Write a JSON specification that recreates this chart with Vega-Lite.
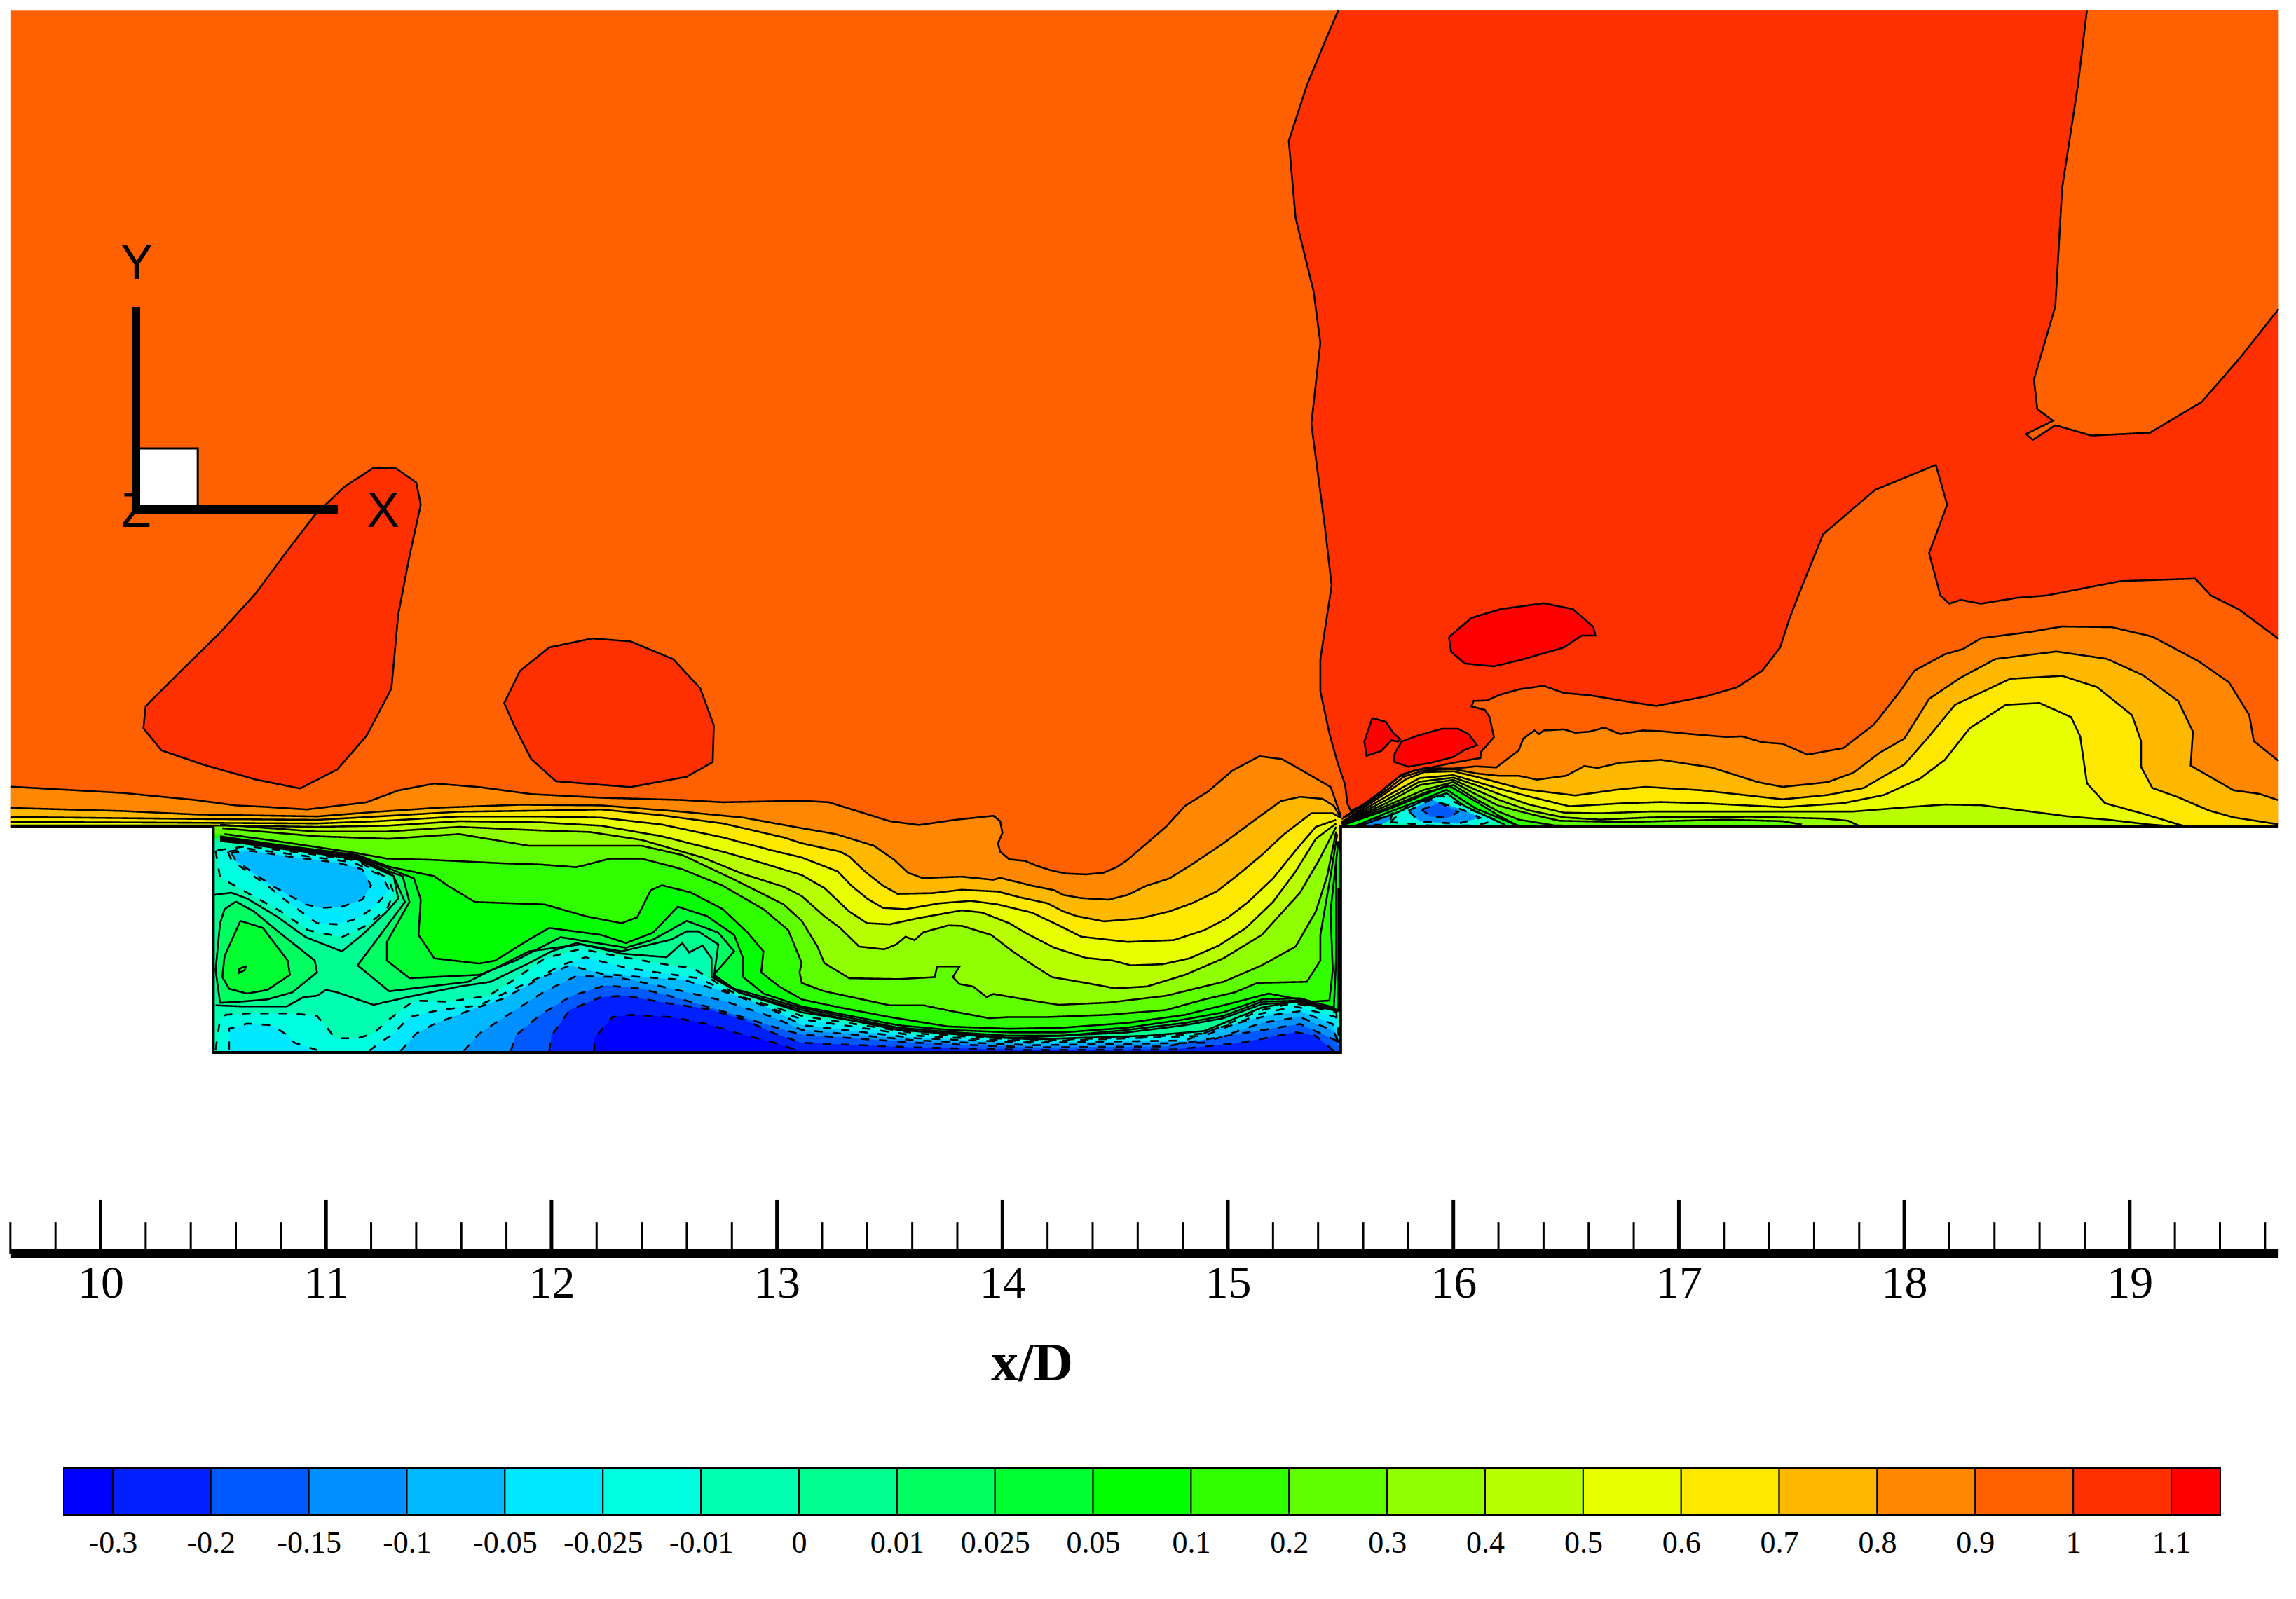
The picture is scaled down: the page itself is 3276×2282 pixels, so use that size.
{"$schema":"https://vega.github.io/schema/vega-lite/v6.json","width":3276,"height":2282,"padding":0,"autosize":{"type":"fit","contains":"padding"},"background":"white","config":{"view":{"stroke":null}},
"datasets":{"contours":[
{"s":1,"k":20,"e":1,"x":9.6,"y":3.62},{"s":1,"k":20,"e":1,"x":19.66,"y":3.62},{"s":1,"k":20,"e":1,"x":19.66,"y":0},{"s":1,"k":20,"e":1,"x":15.5,"y":0},{"s":1,"k":20,"e":1,"x":15.5,"y":-1},{"s":1,"k":20,"e":1,"x":10.5,"y":-1},{"s":1,"k":20,"e":1,"x":10.5,"y":0},{"s":1,"k":20,"e":1,"x":9.6,"y":0},
{"s":2,"k":21,"x":11.307,"y":1.591},{"s":2,"k":21,"x":11.21,"y":1.591},{"s":2,"k":21,"x":11.08,"y":1.506},{"s":2,"k":21,"x":10.95,"y":1.382},{"s":2,"k":21,"x":10.82,"y":1.213},{"s":2,"k":21,"x":10.69,"y":1.037},{"s":2,"k":21,"x":10.53,"y":0.861},{"s":2,"k":21,"x":10.37,"y":0.704},{"s":2,"k":21,"x":10.2,"y":0.535},{"s":2,"k":21,"x":10.19,"y":0.437},{"s":2,"k":21,"x":10.27,"y":0.339},{"s":2,"k":21,"x":10.46,"y":0.274},{"s":2,"k":21,"x":10.69,"y":0.209},{"s":2,"k":21,"x":10.885,"y":0.17},{"s":2,"k":21,"x":11.05,"y":0.254},{"s":2,"k":21,"x":11.18,"y":0.404},{"s":2,"k":21,"x":11.29,"y":0.613},{"s":2,"k":21,"x":11.32,"y":0.939},{"s":2,"k":21,"x":11.37,"y":1.199},{"s":2,"k":21,"x":11.42,"y":1.428},{"s":2,"k":21,"x":11.4,"y":1.526},{"s":2,"k":21,"x":11.307,"y":1.591},
{"s":3,"k":21,"x":12.18,"y":0.835},{"s":3,"k":21,"x":11.99,"y":0.795},{"s":3,"k":21,"x":11.86,"y":0.691},{"s":3,"k":21,"x":11.79,"y":0.548},{"s":3,"k":21,"x":11.84,"y":0.437},{"s":3,"k":21,"x":11.91,"y":0.3},{"s":3,"k":21,"x":12.02,"y":0.202},{"s":3,"k":21,"x":12.35,"y":0.176},{"s":3,"k":21,"x":12.6,"y":0.222},{"s":3,"k":21,"x":12.715,"y":0.287},{"s":3,"k":21,"x":12.72,"y":0.45},{"s":3,"k":21,"x":12.66,"y":0.613},{"s":3,"k":21,"x":12.54,"y":0.743},{"s":3,"k":21,"x":12.35,"y":0.822},{"s":3,"k":21,"x":12.18,"y":0.835},
{"s":4,"k":21,"x":15.49,"y":3.62},{"s":4,"k":21,"x":15.43,"y":3.48},{"s":4,"k":21,"x":15.35,"y":3.286},{"s":4,"k":21,"x":15.27,"y":3.04},{"s":4,"k":21,"x":15.3,"y":2.7},{"s":4,"k":21,"x":15.38,"y":2.373},{"s":4,"k":21,"x":15.41,"y":2.145},{"s":4,"k":21,"x":15.37,"y":1.786},{"s":4,"k":21,"x":15.43,"y":1.33},{"s":4,"k":21,"x":15.46,"y":1.069},{"s":4,"k":21,"x":15.41,"y":0.743},{"s":4,"k":21,"x":15.41,"y":0.6},{"s":4,"k":21,"x":15.43,"y":0.508},{"s":4,"k":21,"x":15.45,"y":0.414},{"s":4,"k":21,"x":15.485,"y":0.289},{"s":4,"k":21,"x":15.52,"y":0.185},{"s":4,"k":21,"x":15.53,"y":0.102},{"s":4,"k":21,"x":15.545,"y":0.071},{"s":4,"k":21,"x":15.63,"y":0.112},{"s":4,"k":21,"x":15.7,"y":0.175},{"s":4,"k":21,"x":15.76,"y":0.222},{"s":4,"k":21,"x":15.82,"y":0.248},{"s":4,"k":21,"x":15.9,"y":0.263},{"s":4,"k":21,"x":16.0,"y":0.284},{"s":4,"k":21,"x":16.12,"y":0.305},{"s":4,"k":21,"x":16.122,"y":0.331},{"s":4,"k":21,"x":16.18,"y":0.398},{"s":4,"k":21,"x":16.16,"y":0.487},{"s":4,"k":21,"x":16.14,"y":0.518},{"s":4,"k":21,"x":16.08,"y":0.534},{"s":4,"k":21,"x":16.09,"y":0.558},{"s":4,"k":21,"x":16.15,"y":0.56},{"s":4,"k":21,"x":16.2,"y":0.583},{"s":4,"k":21,"x":16.29,"y":0.609},{"s":4,"k":21,"x":16.4,"y":0.625},{"s":4,"k":21,"x":16.49,"y":0.593},{"s":4,"k":21,"x":16.605,"y":0.583},{"s":4,"k":21,"x":16.76,"y":0.557},{"s":4,"k":21,"x":16.9,"y":0.536},{"s":4,"k":21,"x":17.12,"y":0.578},{"s":4,"k":21,"x":17.26,"y":0.619},{"s":4,"k":21,"x":17.37,"y":0.692},{"s":4,"k":21,"x":17.45,"y":0.796},{"s":4,"k":21,"x":17.49,"y":0.921},{"s":4,"k":21,"x":17.53,"y":1.025},{"s":4,"k":21,"x":17.64,"y":1.297},{"s":4,"k":21,"x":17.87,"y":1.493},{"s":4,"k":21,"x":18.14,"y":1.604},{"s":4,"k":21,"x":18.19,"y":1.428},{"s":4,"k":21,"x":18.11,"y":1.213},{"s":4,"k":21,"x":18.16,"y":1.025},{"s":4,"k":21,"x":18.2,"y":0.989},{"s":4,"k":21,"x":18.25,"y":1.006},{"s":4,"k":21,"x":18.34,"y":0.989},{"s":4,"k":21,"x":18.5,"y":1.015},{"s":4,"k":21,"x":18.63,"y":1.025},{"s":4,"k":21,"x":18.96,"y":1.089},{"s":4,"k":21,"x":19.29,"y":1.1},{"s":4,"k":21,"x":19.36,"y":1.025},{"s":4,"k":21,"x":19.485,"y":0.963},{"s":4,"k":21,"x":19.66,"y":0.833},{"s":4,"k":21,"e":1,"x":19.66,"y":3.62},{"s":4,"k":21,"e":1,"x":15.49,"y":3.62},
{"s":5,"k":20,"x":19.66,"y":2.295},{"s":5,"k":20,"x":19.49,"y":2.08},{"s":5,"k":20,"x":19.32,"y":1.884},{"s":5,"k":20,"x":19.09,"y":1.747},{"s":5,"k":20,"x":18.83,"y":1.734},{"s":5,"k":20,"x":18.67,"y":1.78},{"s":5,"k":20,"x":18.57,"y":1.715},{"s":5,"k":20,"x":18.54,"y":1.741},{"s":5,"k":20,"x":18.66,"y":1.8},{"s":5,"k":20,"x":18.59,"y":1.852},{"s":5,"k":20,"x":18.575,"y":1.982},{"s":5,"k":20,"x":18.67,"y":2.308},{"s":5,"k":20,"x":18.7,"y":2.83},{"s":5,"k":20,"x":18.77,"y":3.286},{"s":5,"k":20,"x":18.81,"y":3.62},{"s":5,"k":20,"e":1,"x":19.66,"y":3.62},{"s":5,"k":20,"e":1,"x":19.66,"y":2.295},
{"s":6,"k":22,"x":15.98,"y":0.841},{"s":6,"k":22,"x":16.08,"y":0.926},{"s":6,"k":22,"x":16.21,"y":0.965},{"s":6,"k":22,"x":16.4,"y":0.991},{"s":6,"k":22,"x":16.53,"y":0.965},{"s":6,"k":22,"x":16.62,"y":0.887},{"s":6,"k":22,"x":16.63,"y":0.848},{"s":6,"k":22,"x":16.57,"y":0.848},{"s":6,"k":22,"x":16.49,"y":0.795},{"s":6,"k":22,"x":16.31,"y":0.743},{"s":6,"k":22,"x":16.18,"y":0.711},{"s":6,"k":22,"x":16.05,"y":0.724},{"s":6,"k":22,"x":15.99,"y":0.776},{"s":6,"k":22,"x":15.98,"y":0.841},
{"s":7,"k":22,"x":15.64,"y":0.482},{"s":7,"k":22,"x":15.7,"y":0.466},{"s":7,"k":22,"x":15.735,"y":0.414},{"s":7,"k":22,"x":15.765,"y":0.388},{"s":7,"k":22,"x":15.755,"y":0.378},{"s":7,"k":22,"x":15.725,"y":0.383},{"s":7,"k":22,"x":15.68,"y":0.336},{"s":7,"k":22,"x":15.615,"y":0.315},{"s":7,"k":22,"x":15.605,"y":0.378},{"s":7,"k":22,"x":15.64,"y":0.482},
{"s":8,"k":22,"x":15.77,"y":0.378},{"s":8,"k":22,"x":15.84,"y":0.404},{"s":8,"k":22,"x":15.95,"y":0.435},{"s":8,"k":22,"x":16.02,"y":0.435},{"s":8,"k":22,"x":16.07,"y":0.409},{"s":8,"k":22,"x":16.105,"y":0.362},{"s":8,"k":22,"x":16.05,"y":0.341},{"s":8,"k":22,"x":16.0,"y":0.31},{"s":8,"k":22,"x":15.9,"y":0.284},{"s":8,"k":22,"x":15.8,"y":0.266},{"s":8,"k":22,"x":15.735,"y":0.289},{"s":8,"k":22,"x":15.74,"y":0.326},{"s":8,"k":22,"x":15.77,"y":0.378},
{"s":10,"k":19,"x":9.6,"y":0.178},{"s":10,"k":19,"x":10.1,"y":0.15},{"s":10,"k":19,"x":10.42,"y":0.119},{"s":10,"k":19,"x":10.6,"y":0.095},{"s":10,"k":19,"x":10.74,"y":0.088},{"s":10,"k":19,"x":10.915,"y":0.077},{"s":10,"k":19,"x":11.18,"y":0.109},{"s":10,"k":19,"x":11.32,"y":0.161},{"s":10,"k":19,"x":11.48,"y":0.192},{"s":10,"k":19,"x":11.68,"y":0.176},{"s":10,"k":19,"x":11.91,"y":0.145},{"s":10,"k":19,"x":12.22,"y":0.129},{"s":10,"k":19,"x":12.58,"y":0.119},{"s":10,"k":19,"x":12.76,"y":0.109},{"s":10,"k":19,"x":13.11,"y":0.116},{"s":10,"k":19,"x":13.23,"y":0.109},{"s":10,"k":19,"x":13.365,"y":0.067},{"s":10,"k":19,"x":13.5,"y":0.025},{"s":10,"k":19,"x":13.63,"y":0.008},{"s":10,"k":19,"x":13.79,"y":0.031},{"s":10,"k":19,"x":13.96,"y":0.049},{"s":10,"k":19,"x":13.99,"y":0.025},{"s":10,"k":19,"x":14.0,"y":-0.027},{"s":10,"k":19,"x":13.98,"y":-0.073},{"s":10,"k":19,"x":13.99,"y":-0.11},{"s":10,"k":19,"x":14.03,"y":-0.144},{"s":10,"k":19,"x":14.1,"y":-0.151},{"s":10,"k":19,"x":14.15,"y":-0.172},{"s":10,"k":19,"x":14.215,"y":-0.193},{"s":10,"k":19,"x":14.28,"y":-0.207},{"s":10,"k":19,"x":14.37,"y":-0.211},{"s":10,"k":19,"x":14.45,"y":-0.203},{"s":10,"k":19,"x":14.51,"y":-0.177},{"s":10,"k":19,"x":14.555,"y":-0.146},{"s":10,"k":19,"x":14.64,"y":-0.073},{"s":10,"k":19,"x":14.725,"y":0},{"s":10,"k":19,"x":14.81,"y":0.093},{"s":10,"k":19,"x":14.91,"y":0.155},{"s":10,"k":19,"x":15.02,"y":0.249},{"s":10,"k":19,"x":15.14,"y":0.313},{"s":10,"k":19,"x":15.24,"y":0.3},{"s":10,"k":19,"x":15.33,"y":0.249},{"s":10,"k":19,"x":15.456,"y":0.176},{"s":10,"k":19,"x":15.5,"y":0.05},{"s":10,"k":19,"e":1,"x":15.5,"y":-1},{"s":10,"k":19,"e":1,"x":10.5,"y":-1},{"s":10,"k":19,"e":1,"x":10.5,"y":0},{"s":10,"k":19,"e":1,"x":9.6,"y":0},
{"s":11,"k":18,"x":9.6,"y":0.084},{"s":11,"k":18,"x":10.1,"y":0.07},{"s":11,"k":18,"x":10.42,"y":0.055},{"s":11,"k":18,"x":10.96,"y":0.046},{"s":11,"k":18,"x":11.23,"y":0.067},{"s":11,"k":18,"x":11.5,"y":0.085},{"s":11,"k":18,"x":11.86,"y":0.098},{"s":11,"k":18,"x":12.22,"y":0.095},{"s":11,"k":18,"x":12.58,"y":0.067},{"s":11,"k":18,"x":12.85,"y":0.041},{"s":11,"k":18,"x":13.11,"y":-0.006},{"s":11,"k":18,"x":13.26,"y":-0.032},{"s":11,"k":18,"x":13.43,"y":-0.084},{"s":11,"k":18,"x":13.52,"y":-0.146},{"s":11,"k":18,"x":13.58,"y":-0.203},{"s":11,"k":18,"x":13.645,"y":-0.227},{"s":11,"k":18,"x":13.82,"y":-0.221},{"s":11,"k":18,"x":13.96,"y":-0.235},{"s":11,"k":18,"x":13.99,"y":-0.226},{"s":11,"k":18,"x":14.13,"y":-0.261},{"s":11,"k":18,"x":14.23,"y":-0.281},{"s":11,"k":18,"x":14.27,"y":-0.302},{"s":11,"k":18,"x":14.35,"y":-0.316},{"s":11,"k":18,"x":14.47,"y":-0.323},{"s":11,"k":18,"x":14.555,"y":-0.302},{"s":11,"k":18,"x":14.64,"y":-0.261},{"s":11,"k":18,"x":14.74,"y":-0.229},{"s":11,"k":18,"x":14.84,"y":-0.167},{"s":11,"k":18,"x":14.98,"y":-0.073},{"s":11,"k":18,"x":15.12,"y":0.031},{"s":11,"k":18,"x":15.235,"y":0.114},{"s":11,"k":18,"x":15.32,"y":0.133},{"s":11,"k":18,"x":15.42,"y":0.124},{"s":11,"k":18,"x":15.47,"y":0.093},{"s":11,"k":18,"x":15.5,"y":0.04},{"s":11,"k":18,"e":1,"x":15.5,"y":-1},{"s":11,"k":18,"e":1,"x":10.5,"y":-1},{"s":11,"k":18,"e":1,"x":10.5,"y":0},{"s":11,"k":18,"e":1,"x":9.6,"y":0},
{"s":12,"k":17,"x":9.6,"y":0.044},{"s":12,"k":17,"x":10.42,"y":0.035},{"s":12,"k":17,"x":10.96,"y":0.031},{"s":12,"k":17,"x":11.23,"y":0.046},{"s":12,"k":17,"x":11.59,"y":0.067},{"s":12,"k":17,"x":11.95,"y":0.072},{"s":12,"k":17,"x":12.22,"y":0.077},{"s":12,"k":17,"x":12.49,"y":0.051},{"s":12,"k":17,"x":12.76,"y":0.015},{"s":12,"k":17,"x":13.03,"y":-0.047},{"s":12,"k":17,"x":13.11,"y":-0.073},{"s":12,"k":17,"x":13.28,"y":-0.11},{"s":12,"k":17,"x":13.32,"y":-0.131},{"s":12,"k":17,"x":13.39,"y":-0.198},{"s":12,"k":17,"x":13.47,"y":-0.261},{"s":12,"k":17,"x":13.535,"y":-0.297},{"s":12,"k":17,"x":13.69,"y":-0.294},{"s":12,"k":17,"x":13.82,"y":-0.279},{"s":12,"k":17,"x":13.98,"y":-0.287},{"s":12,"k":17,"x":14.08,"y":-0.313},{"s":12,"k":17,"x":14.2,"y":-0.339},{"s":12,"k":17,"x":14.27,"y":-0.375},{"s":12,"k":17,"x":14.33,"y":-0.396},{"s":12,"k":17,"x":14.45,"y":-0.419},{"s":12,"k":17,"x":14.61,"y":-0.406},{"s":12,"k":17,"x":14.74,"y":-0.375},{"s":12,"k":17,"x":14.84,"y":-0.339},{"s":12,"k":17,"x":14.95,"y":-0.287},{"s":12,"k":17,"x":15.05,"y":-0.209},{"s":12,"k":17,"x":15.15,"y":-0.125},{"s":12,"k":17,"x":15.25,"y":-0.032},{"s":12,"k":17,"x":15.37,"y":0.06},{"s":12,"k":17,"x":15.465,"y":0.06},{"s":12,"k":17,"x":15.5,"y":0.04},{"s":12,"k":17,"e":1,"x":15.5,"y":-1},{"s":12,"k":17,"e":1,"x":10.5,"y":-1},{"s":12,"k":17,"e":1,"x":10.5,"y":0},{"s":12,"k":17,"e":1,"x":9.6,"y":0},
{"s":13,"k":16,"x":9.6,"y":0.022},{"s":13,"k":16,"x":10.42,"y":0.018},{"s":13,"k":16,"x":10.96,"y":0.015},{"s":13,"k":16,"x":11.23,"y":0.025},{"s":13,"k":16,"x":11.59,"y":0.046},{"s":13,"k":16,"x":11.95,"y":0.046},{"s":13,"k":16,"x":12.22,"y":0.041},{"s":13,"k":16,"x":12.49,"y":0.01},{"s":13,"k":16,"x":12.76,"y":-0.047},{"s":13,"k":16,"x":12.98,"y":-0.105},{"s":13,"k":16,"x":13.11,"y":-0.136},{"s":13,"k":16,"x":13.27,"y":-0.198},{"s":13,"k":16,"x":13.33,"y":-0.261},{"s":13,"k":16,"x":13.4,"y":-0.318},{"s":13,"k":16,"x":13.47,"y":-0.359},{"s":13,"k":16,"x":13.57,"y":-0.365},{"s":13,"k":16,"x":13.72,"y":-0.339},{"s":13,"k":16,"x":13.86,"y":-0.328},{"s":13,"k":16,"x":13.98,"y":-0.344},{"s":13,"k":16,"x":14.13,"y":-0.38},{"s":13,"k":16,"x":14.23,"y":-0.427},{"s":13,"k":16,"x":14.35,"y":-0.487},{"s":13,"k":16,"x":14.555,"y":-0.51},{"s":13,"k":16,"x":14.76,"y":-0.502},{"s":13,"k":16,"x":14.895,"y":-0.458},{"s":13,"k":16,"x":14.995,"y":-0.406},{"s":13,"k":16,"x":15.09,"y":-0.333},{"s":13,"k":16,"x":15.2,"y":-0.229},{"s":13,"k":16,"x":15.3,"y":-0.105},{"s":13,"k":16,"x":15.39,"y":0},{"s":13,"k":16,"x":15.48,"y":0.031},{"s":13,"k":16,"e":1,"x":15.5,"y":-1},{"s":13,"k":16,"e":1,"x":10.5,"y":-1},{"s":13,"k":16,"e":1,"x":10.5,"y":0},{"s":13,"k":16,"e":1,"x":9.6,"y":0},
{"s":14,"k":15,"x":9.6,"y":0.006},{"s":14,"k":15,"x":10.5,"y":0.006},{"s":14,"k":15,"x":10.96,"y":0},{"s":14,"k":15,"x":11.27,"y":0.005},{"s":14,"k":15,"x":11.59,"y":0.025},{"s":14,"k":15,"x":11.95,"y":0.02},{"s":14,"k":15,"x":12.22,"y":0.005},{"s":14,"k":15,"x":12.49,"y":-0.042},{"s":14,"k":15,"x":12.76,"y":-0.11},{"s":14,"k":15,"x":12.94,"y":-0.162},{"s":14,"k":15,"x":13.11,"y":-0.214},{"s":14,"k":15,"x":13.21,"y":-0.271},{"s":14,"k":15,"x":13.32,"y":-0.375},{"s":14,"k":15,"x":13.4,"y":-0.427},{"s":14,"k":15,"x":13.5,"y":-0.432},{"s":14,"k":15,"x":13.62,"y":-0.406},{"s":14,"k":15,"x":13.82,"y":-0.37},{"s":14,"k":15,"x":13.91,"y":-0.38},{"s":14,"k":15,"x":14.03,"y":-0.427},{"s":14,"k":15,"x":14.11,"y":-0.474},{"s":14,"k":15,"x":14.23,"y":-0.536},{"s":14,"k":15,"x":14.37,"y":-0.581},{"s":14,"k":15,"x":14.49,"y":-0.593},{"s":14,"k":15,"x":14.57,"y":-0.614},{"s":14,"k":15,"x":14.71,"y":-0.609},{"s":14,"k":15,"x":14.83,"y":-0.583},{"s":14,"k":15,"x":14.96,"y":-0.526},{"s":14,"k":15,"x":15.08,"y":-0.448},{"s":14,"k":15,"x":15.2,"y":-0.333},{"s":14,"k":15,"x":15.3,"y":-0.198},{"s":14,"k":15,"x":15.39,"y":-0.053},{"s":14,"k":15,"x":15.48,"y":0.015},{"s":14,"k":15,"e":1,"x":15.5,"y":-1},{"s":14,"k":15,"e":1,"x":10.5,"y":-1},{"s":14,"k":15,"e":1,"x":10.5,"y":0},{"s":14,"k":15,"e":1,"x":9.6,"y":0},
{"s":15,"k":14,"x":10.53,"y":0.01},{"s":15,"k":14,"x":10.96,"y":-0.021},{"s":15,"k":14,"x":11.27,"y":-0.021},{"s":15,"k":14,"x":11.59,"y":0},{"s":15,"k":14,"x":11.95,"y":-0.016},{"s":15,"k":14,"x":12.17,"y":-0.023},{"s":15,"k":14,"x":12.4,"y":-0.058},{"s":15,"k":14,"x":12.67,"y":-0.136},{"s":15,"k":14,"x":12.85,"y":-0.209},{"s":15,"k":14,"x":13.03,"y":-0.266},{"s":15,"k":14,"x":13.11,"y":-0.307},{"s":15,"k":14,"x":13.21,"y":-0.396},{"s":15,"k":14,"x":13.28,"y":-0.448},{"s":15,"k":14,"x":13.365,"y":-0.531},{"s":15,"k":14,"x":13.475,"y":-0.543},{"s":15,"k":14,"x":13.53,"y":-0.521},{"s":15,"k":14,"x":13.57,"y":-0.487},{"s":15,"k":14,"x":13.61,"y":-0.502},{"s":15,"k":14,"x":13.65,"y":-0.467},{"s":15,"k":14,"x":13.76,"y":-0.437},{"s":15,"k":14,"x":13.82,"y":-0.439},{"s":15,"k":14,"x":13.95,"y":-0.479},{"s":15,"k":14,"x":14.045,"y":-0.552},{"s":15,"k":14,"x":14.13,"y":-0.609},{"s":15,"k":14,"x":14.22,"y":-0.666},{"s":15,"k":14,"x":14.37,"y":-0.692},{"s":15,"k":14,"x":14.5,"y":-0.716},{"s":15,"k":14,"x":14.64,"y":-0.708},{"s":15,"k":14,"x":14.81,"y":-0.656},{"s":15,"k":14,"x":14.98,"y":-0.583},{"s":15,"k":14,"x":15.15,"y":-0.479},{"s":15,"k":14,"x":15.32,"y":-0.292},{"s":15,"k":14,"x":15.405,"y":-0.146},{"s":15,"k":14,"x":15.48,"y":0},{"s":15,"k":14,"e":1,"x":15.5,"y":-1},{"s":15,"k":14,"e":1,"x":10.5,"y":-1},{"s":15,"k":14,"e":1,"x":10.5,"y":0},
{"s":16,"k":13,"x":10.54,"y":-0.006},{"s":16,"k":13,"x":10.96,"y":-0.042},{"s":16,"k":13,"x":11.28,"y":-0.053},{"s":16,"k":13,"x":11.59,"y":-0.032},{"s":16,"k":13,"x":11.9,"y":-0.084},{"s":16,"k":13,"x":12.4,"y":-0.084},{"s":16,"k":13,"x":12.58,"y":-0.125},{"s":16,"k":13,"x":12.8,"y":-0.229},{"s":16,"k":13,"x":13.03,"y":-0.344},{"s":16,"k":13,"x":13.11,"y":-0.417},{"s":16,"k":13,"x":13.18,"y":-0.531},{"s":16,"k":13,"x":13.21,"y":-0.604},{"s":16,"k":13,"x":13.32,"y":-0.671},{"s":16,"k":13,"x":13.54,"y":-0.675},{"s":16,"k":13,"x":13.7,"y":-0.666},{"s":16,"k":13,"x":13.71,"y":-0.619},{"s":16,"k":13,"x":13.81,"y":-0.619},{"s":16,"k":13,"x":13.78,"y":-0.666},{"s":16,"k":13,"x":13.81,"y":-0.697},{"s":16,"k":13,"x":13.87,"y":-0.708},{"s":16,"k":13,"x":13.93,"y":-0.755},{"s":16,"k":13,"x":13.96,"y":-0.741},{"s":16,"k":13,"x":14.1,"y":-0.765},{"s":16,"k":13,"x":14.25,"y":-0.789},{"s":16,"k":13,"x":14.47,"y":-0.779},{"s":16,"k":13,"x":14.725,"y":-0.749},{"s":16,"k":13,"x":14.98,"y":-0.687},{"s":16,"k":13,"x":15.15,"y":-0.614},{"s":16,"k":13,"x":15.3,"y":-0.531},{"s":16,"k":13,"x":15.39,"y":-0.375},{"s":16,"k":13,"x":15.44,"y":-0.219},{"s":16,"k":13,"x":15.48,"y":-0.021},{"s":16,"k":13,"e":1,"x":15.5,"y":-1},{"s":16,"k":13,"e":1,"x":10.5,"y":-1},{"s":16,"k":13,"e":1,"x":10.5,"y":0},
{"s":17,"k":12,"x":10.55,"y":-0.032},{"s":17,"k":12,"x":10.78,"y":-0.063},{"s":17,"k":12,"x":11.14,"y":-0.117},{"s":17,"k":12,"x":11.27,"y":-0.141},{"s":17,"k":12,"x":11.46,"y":-0.146},{"s":17,"k":12,"x":11.79,"y":-0.162},{"s":17,"k":12,"x":11.95,"y":-0.167},{"s":17,"k":12,"x":12.11,"y":-0.179},{"s":17,"k":12,"x":12.26,"y":-0.141},{"s":17,"k":12,"x":12.4,"y":-0.141},{"s":17,"k":12,"x":12.58,"y":-0.188},{"s":17,"k":12,"x":12.76,"y":-0.261},{"s":17,"k":12,"x":12.94,"y":-0.365},{"s":17,"k":12,"x":13.05,"y":-0.458},{"s":17,"k":12,"x":13.11,"y":-0.604},{"s":17,"k":12,"x":13.1,"y":-0.645},{"s":17,"k":12,"x":13.11,"y":-0.692},{"s":17,"k":12,"x":13.21,"y":-0.729},{"s":17,"k":12,"x":13.5,"y":-0.791},{"s":17,"k":12,"x":13.65,"y":-0.791},{"s":17,"k":12,"x":13.76,"y":-0.814},{"s":17,"k":12,"x":13.94,"y":-0.848},{"s":17,"k":12,"x":14.03,"y":-0.843},{"s":17,"k":12,"x":14.2,"y":-0.843},{"s":17,"k":12,"x":14.47,"y":-0.833},{"s":17,"k":12,"x":14.725,"y":-0.812},{"s":17,"k":12,"x":14.895,"y":-0.765},{"s":17,"k":12,"x":15.03,"y":-0.734},{"s":17,"k":12,"x":15.13,"y":-0.692},{"s":17,"k":12,"x":15.35,"y":-0.687},{"s":17,"k":12,"x":15.41,"y":-0.593},{"s":17,"k":12,"x":15.41,"y":-0.479},{"s":17,"k":12,"x":15.455,"y":-0.219},{"s":17,"k":12,"x":15.485,"y":-0.032},{"s":17,"k":12,"e":1,"x":15.5,"y":-1},{"s":17,"k":12,"e":1,"x":10.5,"y":-1},{"s":17,"k":12,"e":1,"x":10.5,"y":-0.03},
{"s":18,"k":11,"x":10.53,"y":-0.042},{"s":18,"k":11,"x":10.78,"y":-0.079},{"s":18,"k":11,"x":11.14,"y":-0.125},{"s":18,"k":11,"x":11.28,"y":-0.177},{"s":18,"k":11,"x":11.39,"y":-0.2},{"s":18,"k":11,"x":11.48,"y":-0.219},{"s":18,"k":11,"x":11.54,"y":-0.261},{"s":18,"k":11,"x":11.66,"y":-0.333},{"s":18,"k":11,"x":11.97,"y":-0.344},{"s":18,"k":11,"x":12.15,"y":-0.396},{"s":18,"k":11,"x":12.31,"y":-0.427},{"s":18,"k":11,"x":12.38,"y":-0.401},{"s":18,"k":11,"x":12.44,"y":-0.281},{"s":18,"k":11,"x":12.49,"y":-0.259},{"s":18,"k":11,"x":12.62,"y":-0.292},{"s":18,"k":11,"x":12.76,"y":-0.365},{"s":18,"k":11,"x":12.87,"y":-0.469},{"s":18,"k":11,"x":12.94,"y":-0.552},{"s":18,"k":11,"x":12.93,"y":-0.645},{"s":18,"k":11,"x":13.01,"y":-0.708},{"s":18,"k":11,"x":13.11,"y":-0.765},{"s":18,"k":11,"x":13.28,"y":-0.801},{"s":18,"k":11,"x":13.5,"y":-0.843},{"s":18,"k":11,"x":13.76,"y":-0.885},{"s":18,"k":11,"x":14.03,"y":-0.895},{"s":18,"k":11,"x":14.27,"y":-0.89},{"s":18,"k":11,"x":14.555,"y":-0.869},{"s":18,"k":11,"x":14.81,"y":-0.833},{"s":18,"k":11,"x":14.98,"y":-0.791},{"s":18,"k":11,"x":15.18,"y":-0.739},{"s":18,"k":11,"x":15.37,"y":-0.775},{"s":18,"k":11,"x":15.45,"y":-0.77},{"s":18,"k":11,"x":15.465,"y":-0.635},{"s":18,"k":11,"x":15.455,"y":-0.375},{"s":18,"k":11,"x":15.49,"y":-0.063},{"s":18,"k":11,"e":1,"x":15.5,"y":-1},{"s":18,"k":11,"e":1,"x":10.5,"y":-1},{"s":18,"k":11,"e":1,"x":10.5,"y":-0.04},
{"s":19,"k":10,"x":10.53,"y":-0.047},{"s":19,"k":10,"x":10.78,"y":-0.084},{"s":19,"k":10,"x":11.14,"y":-0.131},{"s":19,"k":10,"x":11.3,"y":-0.193},{"s":19,"k":10,"x":11.39,"y":-0.229},{"s":19,"k":10,"x":11.42,"y":-0.323},{"s":19,"k":10,"x":11.41,"y":-0.479},{"s":19,"k":10,"x":11.48,"y":-0.583},{"s":19,"k":10,"x":11.68,"y":-0.606},{"s":19,"k":10,"x":11.75,"y":-0.593},{"s":19,"k":10,"x":11.9,"y":-0.5},{"s":19,"k":10,"x":11.99,"y":-0.448},{"s":19,"k":10,"x":12.22,"y":-0.479},{"s":19,"k":10,"x":12.33,"y":-0.515},{"s":19,"k":10,"x":12.45,"y":-0.469},{"s":19,"k":10,"x":12.56,"y":-0.354},{"s":19,"k":10,"x":12.69,"y":-0.396},{"s":19,"k":10,"x":12.81,"y":-0.479},{"s":19,"k":10,"x":12.85,"y":-0.583},{"s":19,"k":10,"x":12.85,"y":-0.666},{"s":19,"k":10,"x":12.94,"y":-0.739},{"s":19,"k":10,"x":13.11,"y":-0.796},{"s":19,"k":10,"x":13.535,"y":-0.879},{"s":19,"k":10,"x":13.76,"y":-0.9},{"s":19,"k":10,"x":14.03,"y":-0.911},{"s":19,"k":10,"x":14.27,"y":-0.911},{"s":19,"k":10,"x":14.555,"y":-0.89},{"s":19,"k":10,"x":14.81,"y":-0.853},{"s":19,"k":10,"x":14.98,"y":-0.822},{"s":19,"k":10,"x":15.15,"y":-0.765},{"s":19,"k":10,"x":15.32,"y":-0.76},{"s":19,"k":10,"x":15.47,"y":-0.801},{"s":19,"k":10,"x":15.48,"y":-0.583},{"s":19,"k":10,"x":15.48,"y":-0.167},{"s":19,"k":10,"e":1,"x":15.5,"y":-1},{"s":19,"k":10,"e":1,"x":10.5,"y":-1},{"s":19,"k":10,"e":1,"x":10.5,"y":-0.045},
{"s":20,"k":9,"x":10.53,"y":-0.053},{"s":20,"k":9,"x":10.78,"y":-0.089},{"s":20,"k":9,"x":11.14,"y":-0.136},{"s":20,"k":9,"x":11.28,"y":-0.198},{"s":20,"k":9,"x":11.34,"y":-0.219},{"s":20,"k":9,"x":11.37,"y":-0.333},{"s":20,"k":9,"x":11.27,"y":-0.51},{"s":20,"k":9,"x":11.27,"y":-0.593},{"s":20,"k":9,"x":11.37,"y":-0.671},{"s":20,"k":9,"x":11.68,"y":-0.656},{"s":20,"k":9,"x":11.84,"y":-0.593},{"s":20,"k":9,"x":12.04,"y":-0.489},{"s":20,"k":9,"x":12.33,"y":-0.536},{"s":20,"k":9,"x":12.45,"y":-0.5},{"s":20,"k":9,"x":12.6,"y":-0.417},{"s":20,"k":9,"x":12.74,"y":-0.469},{"s":20,"k":9,"x":12.81,"y":-0.552},{"s":20,"k":9,"x":12.72,"y":-0.656},{"s":20,"k":9,"x":12.81,"y":-0.718},{"s":20,"k":9,"x":13.11,"y":-0.803},{"s":20,"k":9,"x":13.535,"y":-0.89},{"s":20,"k":9,"x":13.79,"y":-0.911},{"s":20,"k":9,"x":14.03,"y":-0.926},{"s":20,"k":9,"x":14.27,"y":-0.926},{"s":20,"k":9,"x":14.555,"y":-0.9},{"s":20,"k":9,"x":14.81,"y":-0.869},{"s":20,"k":9,"x":14.98,"y":-0.838},{"s":20,"k":9,"x":15.15,"y":-0.775},{"s":20,"k":9,"x":15.32,"y":-0.77},{"s":20,"k":9,"x":15.49,"y":-0.812},{"s":20,"k":9,"x":15.49,"y":-0.271},{"s":20,"k":9,"e":1,"x":15.5,"y":-1},{"s":20,"k":9,"e":1,"x":10.5,"y":-1},{"s":20,"k":9,"e":1,"x":10.5,"y":-0.05},
{"s":21,"k":8,"x":10.53,"y":-0.058},{"s":21,"k":8,"x":10.78,"y":-0.094},{"s":21,"k":8,"x":11.14,"y":-0.141},{"s":21,"k":8,"x":11.27,"y":-0.198},{"s":21,"k":8,"x":11.3,"y":-0.219},{"s":21,"k":8,"x":11.35,"y":-0.333},{"s":21,"k":8,"x":11.14,"y":-0.614},{"s":21,"k":8,"x":11.28,"y":-0.729},{"s":21,"k":8,"x":11.63,"y":-0.687},{"s":21,"k":8,"x":11.9,"y":-0.552},{"s":21,"k":8,"x":12.13,"y":-0.521},{"s":21,"k":8,"x":12.31,"y":-0.552},{"s":21,"k":8,"x":12.53,"y":-0.5},{"s":21,"k":8,"x":12.6,"y":-0.463},{"s":21,"k":8,"x":12.65,"y":-0.463},{"s":21,"k":8,"x":12.74,"y":-0.521},{"s":21,"k":8,"x":12.72,"y":-0.666},{"s":21,"k":8,"x":12.85,"y":-0.739},{"s":21,"k":8,"x":13.11,"y":-0.812},{"s":21,"k":8,"x":13.535,"y":-0.9},{"s":21,"k":8,"x":14.03,"y":-0.937},{"s":21,"k":8,"x":14.555,"y":-0.911},{"s":21,"k":8,"x":14.81,"y":-0.879},{"s":21,"k":8,"x":14.98,"y":-0.848},{"s":21,"k":8,"x":15.15,"y":-0.786},{"s":21,"k":8,"x":15.32,"y":-0.775},{"s":21,"k":8,"x":15.49,"y":-0.817},{"s":21,"k":8,"e":1,"x":15.5,"y":-1},{"s":21,"k":8,"e":1,"x":10.5,"y":-1},{"s":21,"k":8,"e":1,"x":10.5,"y":-0.05},
{"s":22,"k":9,"x":10.6,"y":-0.331},{"s":22,"k":9,"x":10.68,"y":-0.375},{"s":22,"k":9,"x":10.78,"y":-0.458},{"s":22,"k":9,"x":10.95,"y":-0.593},{"s":22,"k":9,"x":10.96,"y":-0.645},{"s":22,"k":9,"x":10.85,"y":-0.734},{"s":22,"k":9,"x":10.74,"y":-0.765},{"s":22,"k":9,"x":10.62,"y":-0.775},{"s":22,"k":9,"x":10.53,"y":-0.78},{"s":22,"k":9,"x":10.51,"y":-0.635},{"s":22,"k":9,"x":10.53,"y":-0.427},{"s":22,"k":9,"x":10.55,"y":-0.365},{"s":22,"k":9,"x":10.6,"y":-0.331},
{"s":23,"k":10,"x":10.62,"y":-0.417},{"s":23,"k":10,"x":10.72,"y":-0.448},{"s":23,"k":10,"x":10.83,"y":-0.593},{"s":23,"k":10,"x":10.84,"y":-0.656},{"s":23,"k":10,"x":10.74,"y":-0.723},{"s":23,"k":10,"x":10.65,"y":-0.739},{"s":23,"k":10,"x":10.57,"y":-0.718},{"s":23,"k":10,"x":10.54,"y":-0.666},{"s":23,"k":10,"x":10.55,"y":-0.573},{"s":23,"k":10,"x":10.62,"y":-0.417},
{"s":24,"k":11,"x":10.645,"y":-0.616},{"s":24,"k":11,"x":10.64,"y":-0.635},{"s":24,"k":11,"x":10.615,"y":-0.647},{"s":24,"k":11,"x":10.615,"y":-0.63},{"s":24,"k":11,"x":10.645,"y":-0.616},
{"s":25,"k":7,"x":10.5,"y":-0.302},{"s":25,"k":7,"x":10.58,"y":-0.292},{"s":25,"k":7,"x":10.65,"y":-0.318},{"s":25,"k":7,"x":10.78,"y":-0.396},{"s":25,"k":7,"x":10.91,"y":-0.489},{"s":25,"k":7,"x":11.07,"y":-0.552},{"s":25,"k":7,"x":11.16,"y":-0.479},{"s":25,"k":7,"x":11.27,"y":-0.375},{"s":25,"k":7,"x":11.32,"y":-0.318},{"s":25,"k":7,"x":11.3,"y":-0.219},{"s":25,"k":7,"x":11.14,"y":-0.146},{"s":25,"k":7,"x":10.91,"y":-0.11},{"s":25,"k":7,"x":10.69,"y":-0.079},{"s":25,"k":7,"x":10.53,"y":-0.063},{"s":25,"k":7,"e":1,"x":10.5,"y":-0.063},
{"s":26,"k":6,"x":10.51,"y":-0.105},{"s":26,"k":6,"x":10.52,"y":-0.167},{"s":26,"k":6,"x":10.53,"y":-0.224},{"s":26,"k":6,"x":10.65,"y":-0.292},{"s":26,"k":6,"x":10.8,"y":-0.375},{"s":26,"k":6,"x":10.92,"y":-0.458},{"s":26,"k":6,"x":11.07,"y":-0.489},{"s":26,"k":6,"x":11.18,"y":-0.437},{"s":26,"k":6,"x":11.27,"y":-0.365},{"s":26,"k":6,"x":11.3,"y":-0.292},{"s":26,"k":6,"x":11.275,"y":-0.229},{"s":26,"k":6,"x":11.14,"y":-0.151},{"s":26,"k":6,"x":10.91,"y":-0.117},{"s":26,"k":6,"x":10.65,"y":-0.086},{"s":26,"k":6,"x":10.51,"y":-0.105},
{"s":27,"k":5,"x":10.564,"y":-0.11},{"s":27,"k":5,"x":10.58,"y":-0.146},{"s":27,"k":5,"x":10.65,"y":-0.198},{"s":27,"k":5,"x":10.74,"y":-0.261},{"s":27,"k":5,"x":10.83,"y":-0.333},{"s":27,"k":5,"x":10.96,"y":-0.427},{"s":27,"k":5,"x":11.05,"y":-0.432},{"s":27,"k":5,"x":11.14,"y":-0.406},{"s":27,"k":5,"x":11.21,"y":-0.359},{"s":27,"k":5,"x":11.28,"y":-0.281},{"s":27,"k":5,"x":11.25,"y":-0.219},{"s":27,"k":5,"x":11.12,"y":-0.157},{"s":27,"k":5,"x":10.89,"y":-0.127},{"s":27,"k":5,"x":10.65,"y":-0.096},{"s":27,"k":5,"x":10.564,"y":-0.11},
{"s":28,"k":4,"x":10.58,"y":-0.115},{"s":28,"k":4,"x":10.6,"y":-0.151},{"s":28,"k":4,"x":10.76,"y":-0.261},{"s":28,"k":4,"x":10.91,"y":-0.344},{"s":28,"k":4,"x":10.98,"y":-0.359},{"s":28,"k":4,"x":11.07,"y":-0.354},{"s":28,"k":4,"x":11.16,"y":-0.323},{"s":28,"k":4,"x":11.2,"y":-0.261},{"s":28,"k":4,"x":11.16,"y":-0.188},{"s":28,"k":4,"x":11.05,"y":-0.159},{"s":28,"k":4,"x":10.83,"y":-0.131},{"s":28,"k":4,"x":10.67,"y":-0.107},{"s":28,"k":4,"x":10.58,"y":-0.115},
{"s":29,"k":7,"x":10.51,"y":-0.791},{"s":29,"k":7,"x":10.63,"y":-0.796},{"s":29,"k":7,"x":10.825,"y":-0.796},{"s":29,"k":7,"x":10.9,"y":-0.755},{"s":29,"k":7,"x":10.96,"y":-0.749},{"s":29,"k":7,"x":11.0,"y":-0.723},{"s":29,"k":7,"x":11.05,"y":-0.734},{"s":29,"k":7,"x":11.21,"y":-0.789},{"s":29,"k":7,"x":11.36,"y":-0.755},{"s":29,"k":7,"x":11.59,"y":-0.708},{"s":29,"k":7,"x":11.73,"y":-0.687},{"s":29,"k":7,"x":11.9,"y":-0.604},{"s":29,"k":7,"x":12.0,"y":-0.552},{"s":29,"k":7,"x":12.11,"y":-0.515},{"s":29,"k":7,"x":12.31,"y":-0.562},{"s":29,"k":7,"x":12.51,"y":-0.578},{"s":29,"k":7,"x":12.58,"y":-0.515},{"s":29,"k":7,"x":12.61,"y":-0.557},{"s":29,"k":7,"x":12.67,"y":-0.526},{"s":29,"k":7,"x":12.71,"y":-0.583},{"s":29,"k":7,"x":12.71,"y":-0.666},{"s":29,"k":7,"x":12.83,"y":-0.734},{"s":29,"k":7,"x":13.11,"y":-0.822},{"s":29,"k":7,"x":13.62,"y":-0.905},{"s":29,"k":7,"x":14.13,"y":-0.942},{"s":29,"k":7,"x":14.64,"y":-0.926},{"s":29,"k":7,"x":14.895,"y":-0.905},{"s":29,"k":7,"x":15.15,"y":-0.801},{"s":29,"k":7,"x":15.29,"y":-0.775},{"s":29,"k":7,"x":15.49,"y":-0.817},{"s":29,"k":7,"e":1,"x":15.5,"y":-1},{"s":29,"k":7,"e":1,"x":10.5,"y":-1},{"s":29,"k":7,"e":1,"x":10.5,"y":-0.791},
{"s":30,"k":6,"x":10.51,"y":-0.989},{"s":30,"k":6,"x":10.53,"y":-0.853},{"s":30,"k":6,"x":10.555,"y":-0.833},{"s":30,"k":6,"x":10.65,"y":-0.827},{"s":30,"k":6,"x":10.85,"y":-0.827},{"s":30,"k":6,"x":10.96,"y":-0.838},{"s":30,"k":6,"x":11.0,"y":-0.885},{"s":30,"k":6,"x":11.04,"y":-0.937},{"s":30,"k":6,"x":11.14,"y":-0.937},{"s":30,"k":6,"x":11.21,"y":-0.916},{"s":30,"k":6,"x":11.28,"y":-0.853},{"s":30,"k":6,"x":11.39,"y":-0.77},{"s":30,"k":6,"x":11.54,"y":-0.775},{"s":30,"k":6,"x":11.72,"y":-0.749},{"s":30,"k":6,"x":11.82,"y":-0.687},{"s":30,"k":6,"x":11.97,"y":-0.583},{"s":30,"k":6,"x":12.13,"y":-0.541},{"s":30,"k":6,"x":12.29,"y":-0.573},{"s":30,"k":6,"x":12.53,"y":-0.614},{"s":30,"k":6,"x":12.625,"y":-0.625},{"s":30,"k":6,"x":12.71,"y":-0.677},{"s":30,"k":6,"x":12.83,"y":-0.749},{"s":30,"k":6,"x":13.11,"y":-0.838},{"s":30,"k":6,"x":13.62,"y":-0.916},{"s":30,"k":6,"x":14.13,"y":-0.947},{"s":30,"k":6,"x":14.64,"y":-0.931},{"s":30,"k":6,"x":14.895,"y":-0.916},{"s":30,"k":6,"x":15.15,"y":-0.812},{"s":30,"k":6,"x":15.29,"y":-0.781},{"s":30,"k":6,"x":15.48,"y":-0.822},{"s":30,"k":6,"x":15.5,"y":-0.989},{"s":30,"k":6,"e":1,"x":15.5,"y":-1},{"s":30,"k":6,"e":1,"x":10.51,"y":-1},
{"s":31,"k":5,"x":10.57,"y":-0.989},{"s":31,"k":5,"x":10.57,"y":-0.895},{"s":31,"k":5,"x":10.65,"y":-0.872},{"s":31,"k":5,"x":10.76,"y":-0.879},{"s":31,"k":5,"x":10.825,"y":-0.921},{"s":31,"k":5,"x":10.86,"y":-0.957},{"s":31,"k":5,"x":10.96,"y":-0.989},{"s":31,"k":5,"e":1,"x":10.96,"y":-1},{"s":31,"k":5,"e":1,"x":10.57,"y":-1},
{"s":32,"k":5,"x":11.19,"y":-0.994},{"s":32,"k":5,"x":11.23,"y":-0.963},{"s":32,"k":5,"x":11.3,"y":-0.916},{"s":32,"k":5,"x":11.37,"y":-0.843},{"s":32,"k":5,"x":11.5,"y":-0.812},{"s":32,"k":5,"x":11.68,"y":-0.791},{"s":32,"k":5,"x":11.81,"y":-0.729},{"s":32,"k":5,"x":11.95,"y":-0.666},{"s":32,"k":5,"x":12.04,"y":-0.614},{"s":32,"k":5,"x":12.15,"y":-0.578},{"s":32,"k":5,"x":12.33,"y":-0.625},{"s":32,"k":5,"x":12.65,"y":-0.671},{"s":32,"k":5,"x":12.85,"y":-0.76},{"s":32,"k":5,"x":13.11,"y":-0.853},{"s":32,"k":5,"x":13.62,"y":-0.926},{"s":32,"k":5,"x":14.13,"y":-0.952},{"s":32,"k":5,"x":14.895,"y":-0.926},{"s":32,"k":5,"x":15.15,"y":-0.827},{"s":32,"k":5,"x":15.3,"y":-0.796},{"s":32,"k":5,"x":15.48,"y":-0.843},{"s":32,"k":5,"x":15.5,"y":-0.989},{"s":32,"k":5,"e":1,"x":15.5,"y":-1},{"s":32,"k":5,"e":1,"x":11.19,"y":-1},
{"s":33,"k":4,"x":11.33,"y":-0.994},{"s":33,"k":4,"x":11.4,"y":-0.916},{"s":33,"k":4,"x":11.48,"y":-0.874},{"s":33,"k":4,"x":11.64,"y":-0.812},{"s":33,"k":4,"x":11.79,"y":-0.76},{"s":33,"k":4,"x":11.95,"y":-0.671},{"s":33,"k":4,"x":12.08,"y":-0.614},{"s":33,"k":4,"x":12.22,"y":-0.651},{"s":33,"k":4,"x":12.4,"y":-0.666},{"s":33,"k":4,"x":12.58,"y":-0.677},{"s":33,"k":4,"x":12.76,"y":-0.729},{"s":33,"k":4,"x":12.94,"y":-0.791},{"s":33,"k":4,"x":13.11,"y":-0.879},{"s":33,"k":4,"x":13.62,"y":-0.937},{"s":33,"k":4,"x":14.13,"y":-0.957},{"s":33,"k":4,"x":14.81,"y":-0.947},{"s":33,"k":4,"x":14.96,"y":-0.89},{"s":33,"k":4,"x":15.17,"y":-0.838},{"s":33,"k":4,"x":15.32,"y":-0.817},{"s":33,"k":4,"x":15.465,"y":-0.874},{"s":33,"k":4,"x":15.5,"y":-0.989},{"s":33,"k":4,"e":1,"x":15.5,"y":-1},{"s":33,"k":4,"e":1,"x":11.33,"y":-1},
{"s":34,"k":3,"x":11.61,"y":-0.994},{"s":34,"k":3,"x":11.68,"y":-0.916},{"s":34,"k":3,"x":11.84,"y":-0.812},{"s":34,"k":3,"x":11.97,"y":-0.729},{"s":34,"k":3,"x":12.11,"y":-0.661},{"s":34,"k":3,"x":12.29,"y":-0.666},{"s":34,"k":3,"x":12.49,"y":-0.708},{"s":34,"k":3,"x":12.76,"y":-0.77},{"s":34,"k":3,"x":12.98,"y":-0.843},{"s":34,"k":3,"x":13.11,"y":-0.9},{"s":34,"k":3,"x":13.62,"y":-0.947},{"s":34,"k":3,"x":14.13,"y":-0.968},{"s":34,"k":3,"x":14.895,"y":-0.957},{"s":34,"k":3,"x":15.15,"y":-0.869},{"s":34,"k":3,"x":15.32,"y":-0.843},{"s":34,"k":3,"x":15.47,"y":-0.905},{"s":34,"k":3,"x":15.5,"y":-0.994},{"s":34,"k":3,"e":1,"x":15.5,"y":-1},{"s":34,"k":3,"e":1,"x":11.61,"y":-1},
{"s":35,"k":2,"x":11.82,"y":-0.994},{"s":35,"k":2,"x":11.84,"y":-0.926},{"s":35,"k":2,"x":11.95,"y":-0.833},{"s":35,"k":2,"x":12.09,"y":-0.749},{"s":35,"k":2,"x":12.24,"y":-0.703},{"s":35,"k":2,"x":12.4,"y":-0.718},{"s":35,"k":2,"x":12.58,"y":-0.765},{"s":35,"k":2,"x":12.83,"y":-0.838},{"s":35,"k":2,"x":13.03,"y":-0.9},{"s":35,"k":2,"x":13.11,"y":-0.921},{"s":35,"k":2,"x":13.62,"y":-0.957},{"s":35,"k":2,"x":14.13,"y":-0.978},{"s":35,"k":2,"x":14.725,"y":-0.973},{"s":35,"k":2,"x":14.995,"y":-0.926},{"s":35,"k":2,"x":15.32,"y":-0.874},{"s":35,"k":2,"x":15.48,"y":-0.947},{"s":35,"k":2,"x":15.5,"y":-0.994},{"s":35,"k":2,"e":1,"x":15.5,"y":-1},{"s":35,"k":2,"e":1,"x":11.82,"y":-1},
{"s":36,"k":1,"x":11.99,"y":-0.994},{"s":36,"k":1,"x":12.0,"y":-0.926},{"s":36,"k":1,"x":12.08,"y":-0.812},{"s":36,"k":1,"x":12.22,"y":-0.755},{"s":36,"k":1,"x":12.33,"y":-0.749},{"s":36,"k":1,"x":12.51,"y":-0.781},{"s":36,"k":1,"x":12.69,"y":-0.807},{"s":36,"k":1,"x":12.85,"y":-0.853},{"s":36,"k":1,"x":12.99,"y":-0.916},{"s":36,"k":1,"x":13.11,"y":-0.957},{"s":36,"k":1,"x":13.62,"y":-0.978},{"s":36,"k":1,"x":14.13,"y":-0.989},{"s":36,"k":1,"x":14.76,"y":-0.987},{"s":36,"k":1,"x":15.06,"y":-0.957},{"s":36,"k":1,"x":15.3,"y":-0.91},{"s":36,"k":1,"x":15.39,"y":-0.926},{"s":36,"k":1,"x":15.47,"y":-0.994},{"s":36,"k":1,"e":1,"x":15.47,"y":-1},{"s":36,"k":1,"e":1,"x":11.99,"y":-1},
{"s":37,"k":0,"x":12.19,"y":-0.994},{"s":37,"k":0,"x":12.19,"y":-0.937},{"s":37,"k":0,"x":12.27,"y":-0.843},{"s":37,"k":0,"x":12.355,"y":-0.833},{"s":37,"k":0,"x":12.53,"y":-0.843},{"s":37,"k":0,"x":12.69,"y":-0.874},{"s":37,"k":0,"x":12.83,"y":-0.916},{"s":37,"k":0,"x":12.99,"y":-0.957},{"s":37,"k":0,"x":13.1,"y":-0.994},{"s":37,"k":0,"e":1,"x":13.1,"y":-1},{"s":37,"k":0,"e":1,"x":12.19,"y":-1},
{"s":40,"k":19,"x":15.51,"y":0.04},{"s":40,"k":19,"x":15.59,"y":0.092},{"s":40,"k":19,"x":15.69,"y":0.164},{"s":40,"k":19,"x":15.77,"y":0.232},{"s":40,"k":19,"x":15.87,"y":0.26},{"s":40,"k":19,"x":16.0,"y":0.258},{"s":40,"k":19,"x":16.1,"y":0.268},{"s":40,"k":19,"x":16.19,"y":0.263},{"s":40,"k":19,"x":16.29,"y":0.339},{"s":40,"k":19,"x":16.31,"y":0.391},{"s":40,"k":19,"x":16.36,"y":0.427},{"s":40,"k":19,"x":16.38,"y":0.411},{"s":40,"k":19,"x":16.4,"y":0.427},{"s":40,"k":19,"x":16.49,"y":0.432},{"s":40,"k":19,"x":16.54,"y":0.417},{"s":40,"k":19,"x":16.605,"y":0.422},{"s":40,"k":19,"x":16.67,"y":0.44},{"s":40,"k":19,"x":16.74,"y":0.411},{"s":40,"k":19,"x":16.84,"y":0.427},{"s":40,"k":19,"x":16.92,"y":0.424},{"s":40,"k":19,"x":17.055,"y":0.411},{"s":40,"k":19,"x":17.21,"y":0.398},{"s":40,"k":19,"x":17.28,"y":0.401},{"s":40,"k":19,"x":17.37,"y":0.375},{"s":40,"k":19,"x":17.46,"y":0.368},{"s":40,"k":19,"x":17.57,"y":0.32},{"s":40,"k":19,"x":17.73,"y":0.349},{"s":40,"k":19,"x":17.865,"y":0.453},{"s":40,"k":19,"x":17.98,"y":0.599},{"s":40,"k":19,"x":18.045,"y":0.692},{"s":40,"k":19,"x":18.18,"y":0.765},{"s":40,"k":19,"x":18.26,"y":0.788},{"s":40,"k":19,"x":18.34,"y":0.836},{"s":40,"k":19,"x":18.56,"y":0.864},{"s":40,"k":19,"x":18.7,"y":0.888},{"s":40,"k":19,"x":18.92,"y":0.885},{"s":40,"k":19,"x":19.1,"y":0.843},{"s":40,"k":19,"x":19.305,"y":0.734},{"s":40,"k":19,"x":19.44,"y":0.64},{"s":40,"k":19,"x":19.53,"y":0.495},{"s":40,"k":19,"x":19.55,"y":0.38},{"s":40,"k":19,"x":19.66,"y":0.292},{"s":40,"k":19,"e":1,"x":19.66,"y":0},{"s":40,"k":19,"e":1,"x":15.5,"y":0},
{"s":41,"k":18,"x":15.505,"y":0.034},{"s":41,"k":18,"x":15.6,"y":0.092},{"s":41,"k":18,"x":15.7,"y":0.159},{"s":41,"k":18,"x":15.78,"y":0.222},{"s":41,"k":18,"x":15.87,"y":0.25},{"s":41,"k":18,"x":16.0,"y":0.256},{"s":41,"k":18,"x":16.1,"y":0.237},{"s":41,"k":18,"x":16.2,"y":0.226},{"s":41,"k":18,"x":16.29,"y":0.226},{"s":41,"k":18,"x":16.37,"y":0.209},{"s":41,"k":18,"x":16.5,"y":0.226},{"s":41,"k":18,"x":16.58,"y":0.269},{"s":41,"k":18,"x":16.64,"y":0.261},{"s":41,"k":18,"x":16.74,"y":0.284},{"s":41,"k":18,"x":16.92,"y":0.297},{"s":41,"k":18,"x":17.145,"y":0.263},{"s":41,"k":18,"x":17.35,"y":0.198},{"s":41,"k":18,"x":17.46,"y":0.177},{"s":41,"k":18,"x":17.66,"y":0.198},{"s":41,"k":18,"x":17.775,"y":0.24},{"s":41,"k":18,"x":17.89,"y":0.328},{"s":41,"k":18,"x":18.0,"y":0.391},{"s":41,"k":18,"x":18.11,"y":0.567},{"s":41,"k":18,"x":18.25,"y":0.661},{"s":41,"k":18,"x":18.405,"y":0.744},{"s":41,"k":18,"x":18.675,"y":0.777},{"s":41,"k":18,"x":18.9,"y":0.744},{"s":41,"k":18,"x":19.06,"y":0.671},{"s":41,"k":18,"x":19.215,"y":0.557},{"s":41,"k":18,"x":19.28,"y":0.422},{"s":41,"k":18,"x":19.27,"y":0.271},{"s":41,"k":18,"x":19.46,"y":0.162},{"s":41,"k":18,"x":19.575,"y":0.146},{"s":41,"k":18,"x":19.66,"y":0.118},{"s":41,"k":18,"e":1,"x":19.66,"y":0},{"s":41,"k":18,"e":1,"x":15.5,"y":0},
{"s":42,"k":17,"x":15.505,"y":0.021},{"s":42,"k":17,"x":15.7,"y":0.149},{"s":42,"k":17,"x":15.79,"y":0.211},{"s":42,"k":17,"x":15.87,"y":0.242},{"s":42,"k":17,"x":16.0,"y":0.246},{"s":42,"k":17,"x":16.1,"y":0.222},{"s":42,"k":17,"x":16.2,"y":0.196},{"s":42,"k":17,"x":16.31,"y":0.167},{"s":42,"k":17,"x":16.54,"y":0.139},{"s":42,"k":17,"x":16.72,"y":0.164},{"s":42,"k":17,"x":16.85,"y":0.177},{"s":42,"k":17,"x":17.1,"y":0.162},{"s":42,"k":17,"x":17.46,"y":0.122},{"s":42,"k":17,"x":17.66,"y":0.141},{"s":42,"k":17,"x":17.82,"y":0.172},{"s":42,"k":17,"x":18.0,"y":0.276},{"s":42,"k":17,"x":18.11,"y":0.401},{"s":42,"k":17,"x":18.225,"y":0.541},{"s":42,"k":17,"x":18.47,"y":0.656},{"s":42,"k":17,"x":18.7,"y":0.669},{"s":42,"k":17,"x":18.855,"y":0.619},{"s":42,"k":17,"x":19.01,"y":0.495},{"s":42,"k":17,"x":19.05,"y":0.38},{"s":42,"k":17,"x":19.05,"y":0.266},{"s":42,"k":17,"x":19.1,"y":0.172},{"s":42,"k":17,"x":19.215,"y":0.131},{"s":42,"k":17,"x":19.35,"y":0.073},{"s":42,"k":17,"x":19.46,"y":0.042},{"s":42,"k":17,"x":19.66,"y":0.011},{"s":42,"k":17,"e":1,"x":19.66,"y":0},{"s":42,"k":17,"e":1,"x":15.5,"y":0},
{"s":43,"k":16,"x":15.505,"y":0.019},{"s":43,"k":16,"x":15.7,"y":0.133},{"s":43,"k":16,"x":15.85,"y":0.216},{"s":43,"k":16,"x":16.0,"y":0.229},{"s":43,"k":16,"x":16.1,"y":0.2},{"s":43,"k":16,"x":16.2,"y":0.17},{"s":43,"k":16,"x":16.31,"y":0.141},{"s":43,"k":16,"x":16.515,"y":0.091},{"s":43,"k":16,"x":16.76,"y":0.105},{"s":43,"k":16,"x":16.92,"y":0.11},{"s":43,"k":16,"x":17.1,"y":0.105},{"s":43,"k":16,"x":17.46,"y":0.087},{"s":43,"k":16,"x":17.73,"y":0.105},{"s":43,"k":16,"x":17.91,"y":0.141},{"s":43,"k":16,"x":18.07,"y":0.214},{"s":43,"k":16,"x":18.18,"y":0.297},{"s":43,"k":16,"x":18.29,"y":0.437},{"s":43,"k":16,"x":18.45,"y":0.541},{"s":43,"k":16,"x":18.6,"y":0.549},{"s":43,"k":16,"x":18.74,"y":0.486},{"s":43,"k":16,"x":18.78,"y":0.401},{"s":43,"k":16,"x":18.81,"y":0.193},{"s":43,"k":16,"x":18.89,"y":0.105},{"s":43,"k":16,"x":19.06,"y":0.058},{"s":43,"k":16,"x":19.215,"y":0.011},{"s":43,"k":16,"x":19.26,"y":0},{"s":43,"k":16,"e":1,"x":15.5,"y":0},
{"s":44,"k":15,"x":15.505,"y":0.017},{"s":44,"k":15,"x":15.7,"y":0.118},{"s":44,"k":15,"x":15.85,"y":0.2},{"s":44,"k":15,"x":16.0,"y":0.218},{"s":44,"k":15,"x":16.1,"y":0.185},{"s":44,"k":15,"x":16.2,"y":0.146},{"s":44,"k":15,"x":16.335,"y":0.099},{"s":44,"k":15,"x":16.49,"y":0.063},{"s":44,"k":15,"x":16.65,"y":0.06},{"s":44,"k":15,"x":16.875,"y":0.068},{"s":44,"k":15,"x":17.55,"y":0.068},{"s":44,"k":15,"x":17.775,"y":0.068},{"s":44,"k":15,"x":18.0,"y":0.086},{"s":44,"k":15,"x":18.18,"y":0.099},{"s":44,"k":15,"x":18.34,"y":0.096},{"s":44,"k":15,"x":18.56,"y":0.068},{"s":44,"k":15,"x":18.72,"y":0.047},{"s":44,"k":15,"x":18.9,"y":0.032},{"s":44,"k":15,"x":19.08,"y":0.011},{"s":44,"k":15,"x":19.215,"y":0},{"s":44,"k":15,"e":1,"x":15.5,"y":0},
{"s":45,"k":14,"x":15.505,"y":0.015},{"s":45,"k":14,"x":15.7,"y":0.104},{"s":45,"k":14,"x":15.85,"y":0.185},{"s":45,"k":14,"x":16.0,"y":0.208},{"s":45,"k":14,"x":16.1,"y":0.164},{"s":45,"k":14,"x":16.2,"y":0.12},{"s":45,"k":14,"x":16.335,"y":0.073},{"s":45,"k":14,"x":16.49,"y":0.042},{"s":45,"k":14,"x":16.65,"y":0.032},{"s":45,"k":14,"x":16.875,"y":0.042},{"s":45,"k":14,"x":17.325,"y":0.045},{"s":45,"k":14,"x":17.64,"y":0.037},{"s":45,"k":14,"x":17.75,"y":0.027},{"s":45,"k":14,"x":17.81,"y":0},{"s":45,"k":14,"e":1,"x":15.5,"y":0},
{"s":46,"k":13,"x":15.505,"y":0.013},{"s":46,"k":13,"x":15.7,"y":0.092},{"s":46,"k":13,"x":15.87,"y":0.164},{"s":46,"k":13,"x":16.0,"y":0.198},{"s":46,"k":13,"x":16.1,"y":0.144},{"s":46,"k":13,"x":16.2,"y":0.094},{"s":46,"k":13,"x":16.335,"y":0.058},{"s":46,"k":13,"x":16.47,"y":0.027},{"s":46,"k":13,"x":16.76,"y":0.021},{"s":46,"k":13,"x":17.21,"y":0.032},{"s":46,"k":13,"x":17.46,"y":0.025},{"s":46,"k":13,"x":17.54,"y":0.011},{"s":46,"k":13,"x":17.53,"y":0},{"s":46,"k":13,"e":1,"x":15.5,"y":0},
{"s":47,"k":12,"x":15.505,"y":0.011},{"s":47,"k":12,"x":15.7,"y":0.081},{"s":47,"k":12,"x":15.88,"y":0.154},{"s":47,"k":12,"x":16.0,"y":0.185},{"s":47,"k":12,"x":16.1,"y":0.123},{"s":47,"k":12,"x":16.2,"y":0.068},{"s":47,"k":12,"x":16.29,"y":0.032},{"s":47,"k":12,"x":16.45,"y":0.006},{"s":47,"k":12,"x":17.03,"y":0},{"s":47,"k":12,"e":1,"x":15.5,"y":0},
{"s":48,"k":11,"x":15.51,"y":0.008},{"s":48,"k":11,"x":15.7,"y":0.073},{"s":48,"k":11,"x":15.88,"y":0.146},{"s":48,"k":11,"x":15.975,"y":0.185},{"s":48,"k":11,"x":16.1,"y":0.112},{"s":48,"k":11,"x":16.2,"y":0.05},{"s":48,"k":11,"x":16.28,"y":0.008},{"s":48,"k":11,"x":16.33,"y":0},{"s":48,"k":11,"e":1,"x":15.5,"y":0},
{"s":49,"k":10,"x":15.57,"y":0.006},{"s":49,"k":10,"x":15.7,"y":0.06},{"s":49,"k":10,"x":15.88,"y":0.128},{"s":49,"k":10,"x":15.97,"y":0.164},{"s":49,"k":10,"x":16.1,"y":0.081},{"s":49,"k":10,"x":16.28,"y":0.008},{"s":49,"k":10,"e":1,"x":15.57,"y":0},
{"s":50,"k":7,"x":15.58,"y":0.003},{"s":50,"k":7,"x":15.73,"y":0.055},{"s":50,"k":7,"x":15.88,"y":0.121},{"s":50,"k":7,"x":15.97,"y":0.149},{"s":50,"k":7,"x":16.05,"y":0.092},{"s":50,"k":7,"x":16.19,"y":0.027},{"s":50,"k":7,"x":16.23,"y":0.008},{"s":50,"k":7,"e":1,"x":15.58,"y":0},
{"s":51,"k":6,"x":15.72,"y":0.021},{"s":51,"k":6,"x":15.8,"y":0.097},{"s":51,"k":6,"x":15.95,"y":0.138},{"s":51,"k":6,"x":16.04,"y":0.092},{"s":51,"k":6,"x":16.19,"y":0.029},{"s":51,"k":6,"x":16.1,"y":0.006},{"s":51,"k":6,"x":15.9,"y":0.006},{"s":51,"k":6,"x":15.72,"y":0.021},
{"s":52,"k":3,"x":15.8,"y":0.071},{"s":52,"k":3,"x":15.9,"y":0.121},{"s":52,"k":3,"x":16.04,"y":0.076},{"s":52,"k":3,"x":16.12,"y":0.04},{"s":52,"k":3,"x":16.02,"y":0.014},{"s":52,"k":3,"x":15.85,"y":0.024},{"s":52,"k":3,"x":15.8,"y":0.071},
{"s":53,"k":2,"x":15.86,"y":0.076},{"s":53,"k":2,"x":15.94,"y":0.107},{"s":53,"k":2,"x":16.02,"y":0.066},{"s":53,"k":2,"x":15.98,"y":0.04},{"s":53,"k":2,"x":15.9,"y":0.045},{"s":53,"k":2,"x":15.86,"y":0.076},
{"s":54,"k":3,"x":15.57,"y":0.006},{"s":54,"k":3,"x":15.65,"y":0.034},{"s":54,"k":3,"x":15.73,"y":0.06},{"s":54,"k":3,"x":15.72,"y":0.029},{"s":54,"k":3,"x":15.68,"y":0.01},{"s":54,"k":3,"x":15.57,"y":0.006}
],
"floor":[{"x":9.6,"y":0},{"x":10.5,"y":0},{"x":10.5,"y":-1},{"x":15.5,"y":-1},{"x":15.5,"y":0},{"x":19.66,"y":0}],
"scale":[{"k":0,"a":-0.5,"b":0},{"k":1,"a":0,"b":1},{"k":2,"a":1,"b":2},{"k":3,"a":2,"b":3},{"k":4,"a":3,"b":4},{"k":5,"a":4,"b":5},{"k":6,"a":5,"b":6},{"k":7,"a":6,"b":7},{"k":8,"a":7,"b":8},{"k":9,"a":8,"b":9},{"k":10,"a":9,"b":10},{"k":11,"a":10,"b":11},{"k":12,"a":11,"b":12},{"k":13,"a":12,"b":13},{"k":14,"a":13,"b":14},{"k":15,"a":14,"b":15},{"k":16,"a":15,"b":16},{"k":17,"a":16,"b":17},{"k":18,"a":17,"b":18},{"k":19,"a":18,"b":19},{"k":20,"a":19,"b":20},{"k":21,"a":20,"b":21},{"k":22,"a":21,"b":21.5}]},
"layer":[
{"layer":[
{"data":{"name":"contours"},"mark":{"type":"line","order":null,"strokeWidth":0,"stroke":null},
"encoding":{"x":{"field":"x","type":"quantitative","scale":{"domain":[9.5539,19.7373],"nice":false,"zero":false},"axis":{"values":[10,11,12,13,14,15,16,17,18,19],"format":"d","domain":false,"ticks":false,"grid":false,"tickSize":0,"labelPadding":0,"offset":-483,"labelFont":"Liberation Serif","labelFontSize":66,"labelColor":"black","labelOverlap":false,"labelFlush":false,"title":"x/D","titleFont":"Liberation Serif","titleFontWeight":"bold","titleFontSize":78,"titleColor":"black","titleX":1472,"titleY":170,"titleBaseline":"alphabetic"}},
"y":{"field":"y","type":"quantitative","scale":{"domain":[-3.4224,3.6646],"nice":false,"zero":false},"axis":null},
"fill":{"field":"k","type":"ordinal","legend":null,"scale":{"domain":[0,1,2,3,4,5,6,7,8,9,10,11,12,13,14,15,16,17,18,19,20,21,22],"range":["#0000FF","#0020FF","#0058FF","#0090FF","#00B8FF","#00E8FF","#00FFE0","#00FFB0","#00FF90","#00FF60","#00FF30","#00FF00","#30FF00","#60FF00","#90FF00","#B8FF00","#E8FF00","#FFE800","#FFB800","#FF8800","#FF6000","#FF3000","#FF0000"]}},
"detail":{"field":"s"}}},
{"data":{"name":"contours"},"transform":[{"filter":"!datum.e"}],"mark":{"type":"line","order":null,"color":"black","strokeWidth":2.6},
"encoding":{"x":{"field":"x","type":"quantitative"},"y":{"field":"y","type":"quantitative"},"detail":{"field":"s"},"strokeDash":{"condition":{"test":"datum.k<7","value":[12,14]},"value":[1,0]}}},
{"data":{"name":"floor"},"mark":{"type":"line","order":null,"color":"black","strokeWidth":4},"encoding":{"x":{"field":"x","type":"quantitative"},"y":{"field":"y","type":"quantitative"}}},
{"data":{"values":[{"t":9.6},{"t":9.8},{"t":10.2},{"t":10.4},{"t":10.6},{"t":10.8},{"t":11.2},{"t":11.4},{"t":11.6},{"t":11.8},{"t":12.2},{"t":12.4},{"t":12.6},{"t":12.8},{"t":13.2},{"t":13.4},{"t":13.6},{"t":13.8},{"t":14.2},{"t":14.4},{"t":14.6},{"t":14.8},{"t":15.2},{"t":15.4},{"t":15.6},{"t":15.8},{"t":16.2},{"t":16.4},{"t":16.6},{"t":16.8},{"t":17.2},{"t":17.4},{"t":17.6},{"t":17.8},{"t":18.2},{"t":18.4},{"t":18.6},{"t":18.8},{"t":19.2},{"t":19.4},{"t":19.6}]},"mark":{"type":"rule","color":"black","strokeWidth":3},"encoding":{"x":{"field":"t","type":"quantitative"},"y":{"datum":-1.891},"y2":{"datum":-1.752}}},
{"data":{"values":[{"t":10},{"t":11},{"t":12},{"t":13},{"t":14},{"t":15},{"t":16},{"t":17},{"t":18},{"t":19}]},"mark":{"type":"rule","color":"black","strokeWidth":5},"encoding":{"x":{"field":"t","type":"quantitative"},"y":{"datum":-1.891},"y2":{"datum":-1.652}}},
{"data":{"values":[{"a":9.6,"b":19.66,"y":-1.891}]},"mark":{"type":"rule","color":"black","strokeWidth":12},"encoding":{"x":{"field":"a","type":"quantitative"},"x2":{"field":"b"},"y":{"field":"y","type":"quantitative"}}},
{"data":{"values":[{"label":"Z","x":10.157,"y":1.329}]},"mark":{"type":"text","font":"Liberation Sans","fontSize":70,"color":"black","align":"center","baseline":"alphabetic"},"encoding":{"x":{"field":"x","type":"quantitative"},"y":{"field":"y","type":"quantitative"},"text":{"field":"label"}}},
{"data":{"values":[{"a":10.154,"b":10.431,"c":1.677,"d":1.407}]},"mark":{"type":"rect","fill":"white","stroke":"black","strokeWidth":3},"encoding":{"x":{"field":"a","type":"quantitative"},"x2":{"field":"b"},"y":{"field":"c","type":"quantitative"},"y2":{"field":"d"}}},
{"data":{"values":[{"a":10.157,"c":2.304,"d":1.388}]},"mark":{"type":"rule","color":"black","strokeWidth":12},"encoding":{"x":{"field":"a","type":"quantitative"},"y":{"field":"c","type":"quantitative"},"y2":{"field":"d"}}},
{"data":{"values":[{"a":10.138,"b":11.052,"c":1.407}]},"mark":{"type":"rule","color":"black","strokeWidth":12},"encoding":{"x":{"field":"a","type":"quantitative"},"x2":{"field":"b"},"y":{"field":"c","type":"quantitative"}}},
{"data":{"values":[{"label":"Y","x":10.16,"y":2.429},{"label":"X","x":11.254,"y":1.329}]},"mark":{"type":"text","font":"Liberation Sans","fontSize":70,"color":"black","align":"center","baseline":"alphabetic"},"encoding":{"x":{"field":"x","type":"quantitative"},"y":{"field":"y","type":"quantitative"},"text":{"field":"label"}}}
]},
{"data":{"name":"scale"},"mark":{"type":"rect","stroke":"black","strokeWidth":2},
"encoding":{"x":{"field":"a","type":"quantitative","scale":{"domain":[-0.5,21.5],"range":[91,3168],"nice":false,"zero":false},"axis":{"orient":"bottom","values":[0,1,2,3,4,5,6,7,8,9,10,11,12,13,14,15,16,17,18,19,20,21],"labelExpr":"['-0.3','-0.2','-0.15','-0.1','-0.05','-0.025','-0.01','0','0.01','0.025','0.05','0.1','0.2','0.3','0.4','0.5','0.6','0.7','0.8','0.9','1','1.1'][datum.value]","domain":false,"ticks":false,"grid":false,"tickSize":0,"labelPadding":0,"offset":-102,"labelFont":"Liberation Serif","labelFontSize":44,"labelColor":"black","labelOverlap":false,"labelFlush":false,"title":null}},
"x2":{"field":"b"},"y":{"datum":-2.842},"y2":{"datum":-3.05},"fill":{"field":"k","type":"ordinal","legend":null}}}
],
"resolve":{"scale":{"x":"independent"},"axis":{"x":"independent"}}}
